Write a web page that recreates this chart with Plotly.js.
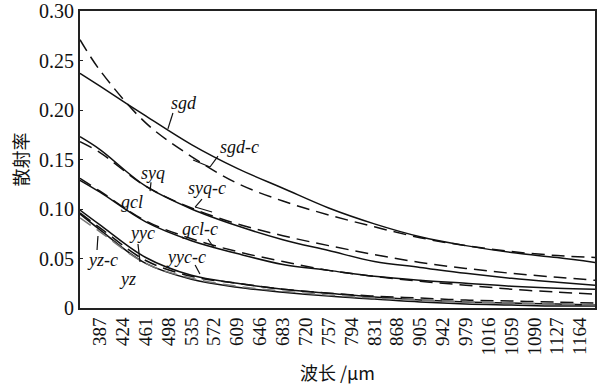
<!DOCTYPE html>
<html>
<head>
<meta charset="utf-8">
<script src="https://cdn.plot.ly/plotly-3.0.1.min.js"></script>
<style>
  html, body { margin: 0; padding: 0; background: #fff; }
  #chart { width: 597px; height: 387px; }
</style>
</head>
<body>
<div id="chart"></div>
<script>
// Wavelength tick labels (evenly spaced categories)
const waveLabels = ['387','424','461','498','535','572','609','646','683','720','757',
                    '794','831','868','905','942','979','1016','1059','1090','1127','1164'];

// Sample positions along the wavelength axis, in tick-index units
const samplePos = [-0.875, 0, 2, 4, 6, 8, 10, 12, 14, 16, 18, 20, 21.65];

// Scattering rate of each sample (measured) and its computed "-c" counterpart
const sgd   = [0.237, 0.224, 0.194, 0.165, 0.141, 0.121, 0.101, 0.085, 0.072, 0.063, 0.056, 0.051, 0.046];
const sgdC  = [0.271, 0.240, 0.187, 0.153, 0.126, 0.108, 0.094, 0.082, 0.071, 0.063, 0.057, 0.053, 0.051];
const syq   = [0.173, 0.160, 0.123, 0.100, 0.083, 0.069, 0.058, 0.047, 0.041, 0.035, 0.030, 0.026, 0.023];
const syqC  = [0.168, 0.157, 0.123, 0.101, 0.085, 0.073, 0.063, 0.054, 0.046, 0.040, 0.035, 0.031, 0.028];
const gcl   = [0.129, 0.117, 0.087, 0.068, 0.055, 0.044, 0.038, 0.032, 0.028, 0.025, 0.022, 0.020, 0.019];
const gclC  = [0.131, 0.118, 0.088, 0.070, 0.057, 0.047, 0.038, 0.032, 0.027, 0.023, 0.019, 0.016, 0.014];
const yyc   = [0.099, 0.084, 0.051, 0.033, 0.025, 0.019, 0.015, 0.011, 0.008, 0.006, 0.005, 0.004, 0.003];
const yycC  = [0.096, 0.081, 0.048, 0.032, 0.025, 0.019, 0.015, 0.012, 0.010, 0.008, 0.007, 0.006, 0.005];
const yz    = [0.095, 0.079, 0.045, 0.029, 0.021, 0.016, 0.012, 0.009, 0.006, 0.004, 0.003, 0.002, 0.002];
const yzC   = [0.091, 0.077, 0.045, 0.030, 0.022, 0.017, 0.013, 0.010, 0.008, 0.006, 0.005, 0.004, 0.003];

const yTicks = [0, 0.05, 0.10, 0.15, 0.20, 0.25, 0.30];
const yTickText = ['0', '0.05', '0.10', '0.15', '0.20', '0.25', '0.30'];

const SERIF = 'Times New Roman';
const CJK = 'Noto Sans CJK SC';

function curve(name, ys, dashed, color) {
  return {
    type: 'scatter', mode: 'lines', name: name,
    x: samplePos, y: ys,
    line: {
      color: color || '#111',
      width: 1.5,
      shape: 'spline', smoothing: 1,
      dash: dashed ? '13px,7px' : 'solid'
    },
    hoverinfo: 'skip'
  };
}

const traces = [
  curve('sgd', sgd, false), curve('sgd-c', sgdC, true),
  curve('syq', syq, false), curve('syq-c', syqC, true),
  curve('gcl', gcl, false), curve('gcl-c', gclC, true),
  curve('yyc', yyc, false), curve('yyc-c', yycC, true),
  curve('yz', yz, false),   curve('yz-c', yzC, true, '#777')
];

// Curve labels with their leader lines (data coordinates)
const labels = [
  { text: 'sgd',   x: 3.67, y: 0.207, lead: [[3.19, 0.197], [2.97, 0.181]] },
  { text: 'sgd-c', x: 6.12, y: 0.163, lead: [[5.16, 0.1535], [4.81, 0.1424], [4.07, 0.1495]] },
  { text: 'syq',   x: 2.32, y: 0.136, lead: [[2.23, 0.127], [2.19, 0.118]] },
  { text: 'syq-c', x: 4.68, y: 0.121, lead: [[4.46, 0.110], [4.16, 0.102], [4.90, 0.097]] },
  { text: 'gcl',   x: 1.40, y: 0.107, lead: null },
  { text: 'gcl-c', x: 4.37, y: 0.080, lead: [[4.72, 0.0697], [4.99, 0.0606]] },
  { text: 'yyc',   x: 1.84, y: 0.0758, lead: [[1.66, 0.0646], [1.75, 0.0465]] },
  { text: 'yyc-c', x: 3.76, y: 0.0515, lead: [[4.16, 0.0434], [4.37, 0.0343]] },
  { text: 'yz-c',  x: 0.09, y: 0.0485, lead: [[-0.13, 0.0586], [-0.09, 0.0727]] },
  { text: 'yz',    x: 1.22, y: 0.0293, lead: null }
];

const annotations = labels.map(l => ({
  x: l.x, y: l.y, xref: 'x', yref: 'y',
  text: l.text, showarrow: false,
  font: { family: SERIF, size: 18, color: '#111', style: 'italic' },
  xanchor: 'center', yanchor: 'middle'
}));

const shapes = [];
labels.forEach(l => {
  if (!l.lead) return;
  for (let i = 0; i < l.lead.length - 1; i++) {
    shapes.push({
      type: 'line', xref: 'x', yref: 'y',
      x0: l.lead[i][0], y0: l.lead[i][1], x1: l.lead[i + 1][0], y1: l.lead[i + 1][1],
      line: { color: '#111', width: 1.2 }
    });
  }
});

const layout = {
  width: 597, height: 387,
  margin: { l: 80, r: 2, t: 11, b: 79 },
  paper_bgcolor: '#fff', plot_bgcolor: '#fff',
  showlegend: false,
  xaxis: {
    range: [-0.875, 21.65],
    tickmode: 'array',
    tickvals: waveLabels.map((_, i) => i),
    ticktext: waveLabels,
    tickangle: -90,
    tickfont: { family: SERIF, size: 19, color: '#111' },
    ticks: '', showgrid: false, zeroline: false,
    showline: true, mirror: true, linecolor: '#222', linewidth: 2,
    title: { text: '波长 /μm', font: { family: CJK, size: 18, color: '#111' }, standoff: 13 }
  },
  yaxis: {
    range: [0, 0.30],
    tickmode: 'array', tickvals: yTicks, ticktext: yTickText,
    tickfont: { family: SERIF, size: 20, color: '#111' },
    ticks: 'inside', ticklen: 3, tickcolor: '#222',
    showgrid: false, zeroline: false,
    showline: true, mirror: true, linecolor: '#222', linewidth: 2,
    title: { text: '散射率', font: { family: CJK, size: 18, color: '#111' }, standoff: 6 }
  },
  annotations: annotations,
  shapes: shapes
};

Plotly.newPlot('chart', traces, layout, { staticPlot: true, displayModeBar: false });
</script>
</body>
</html>
